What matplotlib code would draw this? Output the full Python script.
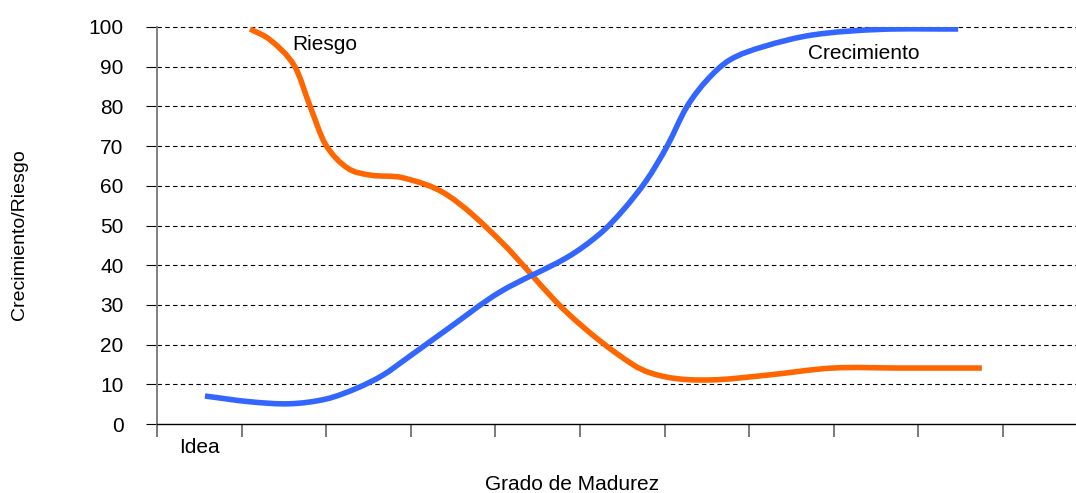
import matplotlib
matplotlib.use("Agg")
import matplotlib.pyplot as plt
from matplotlib.path import Path
from matplotlib.patches import PathPatch

plt.rcParams['font.family'] = ['Liberation Sans', 'DejaVu Sans']

# Data (x in category units, tick i at x=i)
riesgo_x = [1.10, 1.34, 1.63, 1.81, 1.99, 2.25, 2.52, 2.91, 3.43, 4.05, 4.85, 5.63,
            6.03, 6.54, 7.21, 7.99, 8.78, 9.75]
riesgo_y = [99.5, 96.7, 90.0, 80.0, 70.5, 64.5, 62.7, 62.0, 57.7, 46.3, 28.0, 14.9,
            11.8, 11.1, 12.3, 14.1, 14.1, 14.1]

crec_x = [0.567, 1.10, 1.57, 2.00, 2.36, 2.67, 2.95, 3.42, 4.05, 4.85, 5.24, 5.51,
          5.79, 6.03, 6.26, 6.50, 6.77, 7.16, 7.75, 8.55, 9.47]
crec_y = [7.05, 5.6, 5.1, 6.3, 9.0, 12.3, 16.5, 23.7, 33.2, 42.0, 48.0, 53.9,
          61.5, 70.0, 79.8, 86.6, 91.7, 95.0, 98.0, 99.4, 99.5]

y_ticks = list(range(0, 101, 10))
x_tick_positions = list(range(11))
x_category_label = "Idea"


def smooth_path(xs, ys):
    """Smoothed line through the data points (cubic Hermite drawn as Beziers)."""
    n = len(xs)
    m = []
    for i in range(n):
        if i == 0:
            m.append((ys[1] - ys[0]) / (xs[1] - xs[0]))
        elif i == n - 1:
            m.append((ys[-1] - ys[-2]) / (xs[-1] - xs[-2]))
        else:
            m.append((ys[i + 1] - ys[i - 1]) / (xs[i + 1] - xs[i - 1]))
    verts = [(xs[0], ys[0])]
    codes = [Path.MOVETO]
    for i in range(n - 1):
        h = xs[i + 1] - xs[i]
        verts += [(xs[i] + h / 3, ys[i] + m[i] * h / 3),
                  (xs[i + 1] - h / 3, ys[i + 1] - m[i + 1] * h / 3),
                  (xs[i + 1], ys[i + 1])]
        codes += [Path.CURVE4] * 3
    return Path(verts, codes)


fig = plt.figure(figsize=(10.76, 4.93), dpi=100)
ax = fig.add_axes([157/1076, 69/493, 1 - 157/1076, (424 - 27)/493])

ax.set_ylim(0, 100)
ax.set_xlim(0, (1076 - 157) / 84.6)

for yv in y_ticks[1:]:
    ax.axhline(yv, color='black', lw=0.8, linestyle=(0, (4, 3)), zorder=1, clip_on=False)

for xs, ys, col in [(riesgo_x, riesgo_y, '#FF6600'), (crec_x, crec_y, '#3366FF')]:
    patch = PathPatch(smooth_path(xs, ys), facecolor='none', edgecolor=col, lw=4.0,
                      capstyle='butt', joinstyle='round', zorder=3)
    ax.add_patch(patch)

ax.text(1.60, 95.5, "Riesgo", fontsize=15, va='center', ha='left')
ax.text(7.70, 93.2, "Crecimiento", fontsize=15, va='center', ha='left')

ax.set_yticks(y_ticks)
ax.set_yticklabels([str(v) for v in y_ticks], fontsize=15)
ax.tick_params(axis='y', direction='out', length=8, width=0.8, color='black', pad=16)

ax.set_xticks(x_tick_positions)
ax.set_xticklabels([''] * len(x_tick_positions))
ax.tick_params(axis='x', which='major', direction='out', length=9, width=1.3, color='#707070')
ax.set_xticks([0.5], minor=True)
ax.set_xticklabels([x_category_label], minor=True, fontsize=15)
ax.tick_params(axis='x', which='minor', length=0, pad=10)

for s in ['top', 'right']:
    ax.spines[s].set_visible(False)
ax.spines['left'].set_color('#808080')
ax.spines['left'].set_linewidth(1.4)
ax.spines['bottom'].set_color('black')
ax.spines['bottom'].set_linewidth(1.0)

fig.text(572/1076, 1 - 485/493, "Grado de Madurez", fontsize=15, ha='center', va='center')
fig.text(20/1076, 1 - 235/493, "Crecimiento/Riesgo", fontsize=14, ha='center', va='center',
         rotation=90)

fig.savefig("out.png", dpi=100)
